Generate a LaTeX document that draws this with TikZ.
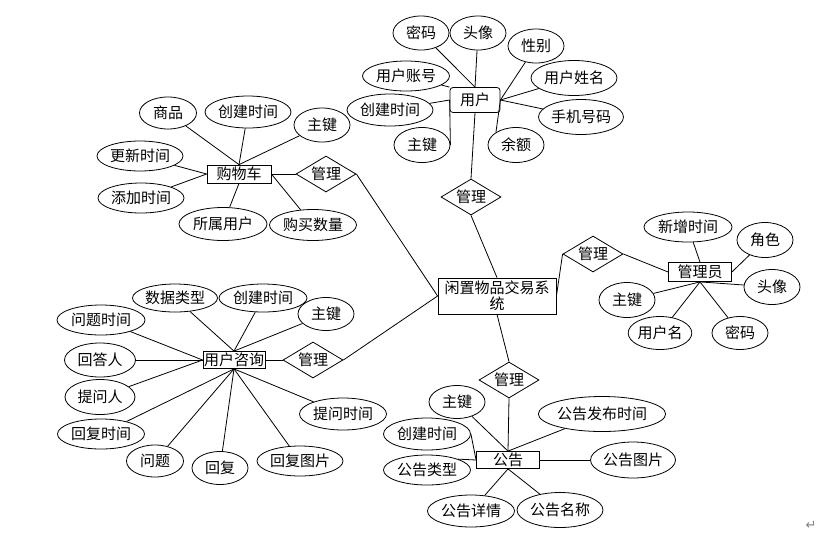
\documentclass[tikz,border=0pt]{standalone}
\usepackage{fontspec}
\setmainfont{Noto Sans CJK SC}
\newfontfamily\symfont{DejaVu Sans}
\usetikzlibrary{shapes.geometric}

\begin{document}
\begin{tikzpicture}[x=1pt, y=-1pt, line width=0.8pt,
    every node/.style={font=\fontsize{15}{18}\selectfont},
    entity/.style={rectangle, draw, inner sep=0pt},
    attr/.style={ellipse, draw, inner sep=0pt, minimum width=#1, minimum height=32},
    attr/.default=56,
    rel/.style={diamond, draw, inner sep=0pt, aspect=1.67, minimum width=60, minimum height=36}]
    \useasboundingbox (0,0) rectangle (827,542);

    % central system
    \node[entity, minimum width=118, minimum height=36, align=center] (sys) at (497,296) {闲置物品交易系\\[-2pt]统};

    % 用户 and its attributes
    \node[entity, rounded corners=3pt, minimum width=50, minimum height=25] (user) at (475,100) {用户};
    \node[attr, minimum height=34] (u_mm) at (421,33) {密码};
    \node[attr, minimum height=34] (u_tx) at (478,33) {头像};
    \node[attr, minimum height=34] (u_xb) at (536,46) {性别};
    \node[attr=87, minimum height=30] (u_zh) at (406,76) {用户账号};
    \node[attr=86, minimum height=35] (u_xm) at (574,78) {用户姓名};
    \node[attr=86] (u_cj) at (390,110) {创建时间};
    \node[attr=85, minimum height=35] (u_sj) at (581,117) {手机号码};
    \node[attr, minimum height=35] (u_zj) at (422,145) {主键};
    \node[attr, minimum height=35] (u_ye) at (516,145) {余额};
    \draw (u_mm) -- (user.north);
    \draw (u_tx) -- (user.north);
    \draw (u_zh) -- (user.north west);
    \draw (u_cj) -- (user.west);
    \draw (u_zj.east) -- (user.west);
    \draw (u_xb) -- (user.east);
    \draw (user.east) -- (u_ye.north west);
    \draw (u_xm) -- (user.east);
    \draw (u_sj) -- (user.east);
    \node[rel] (r_user) at (471,197) {管理};
    \draw (user.south) -- (r_user.north);
    \draw (r_user.south) -- (sys.north);

    % 购物车 and its attributes
    \node[entity, minimum width=64, minimum height=18] (cart) at (239,174) {购物车};
    \node[attr=57] (c_sp) at (168,113) {商品};
    \node[attr=86] (c_cj) at (248,112) {创建时间};
    \node[attr, minimum height=34] (c_zj) at (322,125) {主键};
    \node[attr=86, minimum height=30] (c_gx) at (140,156) {更新时间};
    \node[attr=86, minimum height=30] (c_tj) at (141,198) {添加时间};
    \node[attr=88, minimum height=33] (c_ss) at (223,224) {所属用户};
    \node[attr=87, minimum height=31] (c_gm) at (313,225) {购买数量};
    \draw (c_sp) -- (cart.north);
    \draw (c_cj) -- (cart.north);
    \draw (c_zj) -- (cart.north);
    \draw (c_gx) -- (cart.west);
    \draw (c_tj) -- (cart.west);
    \draw (c_ss) -- (cart.south);
    \draw (c_gm) -- (cart.east);
    \node[rel] (r_cart) at (326,174) {管理};
    \draw (cart.east) -- (r_cart.west);
    \draw (r_cart.east) -- (sys.west);

    % 用户咨询 and its attributes
    \node[entity, minimum width=62, minimum height=17] (ask) at (234,360) {用户咨询};
    \node[attr=85, minimum height=28] (a_lx) at (175,298) {数据类型};
    \node[attr=88, minimum height=28] (a_cj) at (263,298) {创建时间};
    \node[attr, minimum height=33] (a_zj) at (326,314) {主键};
    \node[attr=88, minimum height=30] (a_wtsj) at (101,320) {问题时间};
    \node[attr=71, minimum height=34] (a_hd) at (100,360) {回答人};
    \node[attr=70, minimum height=35] (a_tw) at (100,397) {提问人};
    \node[attr=87, minimum height=30] (a_hfsj) at (101,434) {回复时间};
    \node[attr=57] (a_wt) at (155,461) {问题};
    \node[attr, minimum height=33] (a_hf) at (220,468) {回复};
    \node[attr=86, minimum height=30] (a_tp) at (300,461) {回复图片};
    \node[attr=87] (a_twsj) at (343,414) {提问时间};
    \draw (a_lx) -- (ask.north);
    \draw (a_cj) -- (ask.north);
    \draw (a_zj) -- (ask.north);
    \draw (a_wtsj) -- (ask.west);
    \draw (a_hd) -- (ask.west);
    \draw (a_tw) -- (ask.west);
    \draw (a_hfsj) -- (ask.south);
    \draw (a_wt) -- (ask.south);
    \draw (a_hf) -- (ask.south);
    \draw (a_tp) -- (ask.south);
    \draw (a_twsj) -- (ask.south);
    \node[rel] (r_ask) at (313,360) {管理};
    \draw (ask.east) -- (r_ask.west);
    \draw (r_ask.east) -- (sys.west);

    % 管理员 and its attributes
    \node[entity, minimum width=63, minimum height=19] (admin) at (700,272) {管理员};
    \node[attr=88, minimum height=30] (m_xz) at (688,227) {新增时间};
    \node[attr, minimum height=35] (m_js) at (765,240) {角色};
    \node[attr, minimum height=35] (m_tx) at (772,287) {头像};
    \node[attr, minimum height=35] (m_zj) at (627,300) {主键};
    \node[attr=58, minimum height=33] (m_yh) at (660,333) {用户名};
    \node[attr, minimum height=33] (m_mm) at (740,333) {密码};
    \draw (m_xz) -- (admin.north);
    \draw (m_js) -- (admin.east);
    \draw (m_tx) -- (admin.south);
    \draw (m_zj) -- (admin.south);
    \draw (m_yh) -- (admin.south);
    \draw (m_mm) -- (admin.south);
    \node[rel] (r_admin) at (593,254) {管理};
    \draw (sys.east) -- (r_admin.west);
    \draw (r_admin.east) -- (admin.west);

    % 公告 and its attributes
    \node[entity, minimum width=63, minimum height=17] (note) at (508,460) {公告};
    \node[attr, minimum height=33] (n_zj) at (457,402) {主键};
    \node[attr=117, minimum height=35] (n_fb) at (602,414) {公告发布时间};
    \node[attr=87] (n_cj) at (427,434) {创建时间};
    \node[attr=87, minimum height=30] (n_lx) at (427,470) {公告类型};
    \node[attr=85, minimum height=36] (n_tp) at (633,460) {公告图片};
    \node[attr=87] (n_xq) at (471,511) {公告详情};
    \node[attr=86, minimum height=35] (n_mc) at (560,510) {公告名称};
    \draw (n_zj) -- (note.north);
    \draw (n_fb) -- (note.north);
    \draw (n_cj.east) -- (note.west);
    \draw (n_lx.north east) -- (note.west);
    \draw (note.east) -- (n_tp);
    \draw (n_xq) -- (note.south);
    \draw (n_mc) -- (note.south);
    \node[rel] (r_note) at (509,380) {管理};
    \draw (sys.south) -- (r_note.north);
    \draw (r_note.south) -- (note.north);

    % paragraph mark
    \node[text=gray, font=\symfont\fontsize{13}{15}\selectfont] (mark) at (811,525) {↵};
\end{tikzpicture}
\end{document}
